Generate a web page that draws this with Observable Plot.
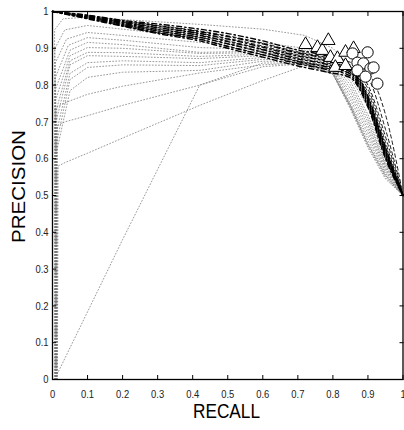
<!DOCTYPE html>
<html><head><meta charset="utf-8">
<script src="https://cdn.jsdelivr.net/npm/d3@7"></script>
<script src="https://cdn.jsdelivr.net/npm/@observablehq/plot@0.6"></script>
<style>html,body{margin:0;padding:0;background:#fff;} svg{display:block;}</style>
</head><body><div id="chart"></div>
<script>
// ---- tick values & labels ----
const tickValues = [0, 0.1, 0.2, 0.3, 0.4, 0.5, 0.6, 0.7, 0.8, 0.9, 1];
const tickLabels = ["0", "0.1", "0.2", "0.3", "0.4", "0.5", "0.6", "0.7", "0.8", "0.9", "1"];
const xTitle = "RECALL";
const yTitle = "PRECISION";

// ---- dotted curves: individual head points, then precision on a shared recall grid ----
const dotGrid = [0.1, 0.2, 0.42, 0.6, 0.72, 0.8, 0.85, 0.9, 0.95, 1];
const dotHeads = [
  [[0.006, 0.0], [0.006, 0.95], [0.030, 0.980]],
  [[0.007, 0.0], [0.007, 0.90], [0.035, 0.950]],
  [[0.008, 0.0], [0.008, 0.86], [0.040, 0.925]],
  [[0.008, 0.0], [0.008, 0.82], [0.045, 0.908]],
  [[0.009, 0.0], [0.009, 0.79], [0.050, 0.895]],
  [[0.009, 0.0], [0.009, 0.76], [0.050, 0.880]],
  [[0.010, 0.0], [0.010, 0.73], [0.050, 0.866]],
  [[0.010, 0.0], [0.010, 0.70], [0.050, 0.855]],
  [[0.011, 0.0], [0.011, 0.67], [0.050, 0.832]],
  [[0.011, 0.0], [0.011, 0.64], [0.050, 0.815]],
  [[0.012, 0.0], [0.012, 0.62], [0.050, 0.785]],
  [[0.012, 0.0], [0.012, 0.74], [0.030, 0.750]],
  [[0.013, 0.0], [0.014, 0.69], [0.035, 0.700]],
  [[0.014, 0.0], [0.016, 0.58], [0.037, 0.590]],
  [[0.006, 0.0]]
];
const dotPrecision = [
  [0.985, 0.978, 0.965, 0.952, 0.935, 0.900, 0.850, 0.770, 0.630, 0.5],
  [0.962, 0.952, 0.929, 0.915, 0.900, 0.875, 0.830, 0.750, 0.620, 0.5],
  [0.943, 0.935, 0.916, 0.905, 0.895, 0.870, 0.820, 0.740, 0.610, 0.5],
  [0.929, 0.922, 0.902, 0.897, 0.890, 0.865, 0.810, 0.720, 0.600, 0.5],
  [0.916, 0.910, 0.889, 0.892, 0.888, 0.860, 0.800, 0.710, 0.590, 0.5],
  [0.902, 0.900, 0.886, 0.888, 0.884, 0.855, 0.790, 0.700, 0.585, 0.5],
  [0.889, 0.888, 0.878, 0.884, 0.880, 0.850, 0.780, 0.690, 0.580, 0.5],
  [0.880, 0.878, 0.872, 0.880, 0.876, 0.845, 0.770, 0.680, 0.575, 0.5],
  [0.861, 0.866, 0.861, 0.875, 0.872, 0.840, 0.760, 0.670, 0.570, 0.5],
  [0.848, 0.855, 0.853, 0.870, 0.868, 0.838, 0.750, 0.660, 0.565, 0.5],
  [0.821, 0.835, 0.840, 0.865, 0.863, 0.835, 0.745, 0.650, 0.560, 0.5],
  [0.775, 0.797, 0.833, 0.855, 0.860, 0.832, 0.740, 0.640, 0.555, 0.5],
  [0.717, 0.745, 0.800, 0.850, 0.858, 0.830, 0.740, 0.635, 0.550, 0.5],
  [0.615, 0.656, 0.745, 0.8125, 0.853, 0.830, 0.735, 0.630, 0.545, 0.5],
  [0.184, 0.380, 0.800, 0.860, 0.860, 0.830, 0.745, 0.640, 0.555, 0.5]
];

// ---- black curves on a shared recall grid ----
const blackGrid = [0, 0.1, 0.2, 0.3, 0.42, 0.5, 0.6, 0.7, 0.78, 0.85, 0.9, 0.95, 1];
const dashDotPrecision = [
  [1, 0.990, 0.976, 0.966, 0.952, 0.940, 0.920, 0.895, 0.880, 0.850, 0.770, 0.630, 0.5],
  [1, 0.988, 0.973, 0.961, 0.945, 0.932, 0.912, 0.887, 0.872, 0.845, 0.765, 0.625, 0.5],
  [1, 0.986, 0.970, 0.956, 0.940, 0.925, 0.903, 0.879, 0.865, 0.840, 0.760, 0.620, 0.5],
  [1, 0.985, 0.968, 0.951, 0.935, 0.918, 0.896, 0.871, 0.857, 0.835, 0.755, 0.615, 0.5],
  [1, 0.984, 0.965, 0.947, 0.930, 0.912, 0.889, 0.864, 0.850, 0.830, 0.750, 0.610, 0.5],
  [1, 0.982, 0.962, 0.943, 0.925, 0.905, 0.882, 0.858, 0.843, 0.825, 0.745, 0.605, 0.5],
  [1, 0.980, 0.960, 0.940, 0.920, 0.900, 0.876, 0.852, 0.836, 0.820, 0.740, 0.600, 0.5]
];
const dashedPrecision = [
  [1, 0.990, 0.975, 0.962, 0.947, 0.934, 0.914, 0.890, 0.876, 0.862, 0.835, 0.720, 0.5],
  [1, 0.987, 0.971, 0.957, 0.941, 0.927, 0.906, 0.882, 0.868, 0.855, 0.820, 0.680, 0.5],
  [1, 0.985, 0.967, 0.952, 0.936, 0.920, 0.898, 0.874, 0.860, 0.848, 0.800, 0.660, 0.5],
  [1, 0.983, 0.964, 0.947, 0.930, 0.913, 0.890, 0.866, 0.852, 0.840, 0.790, 0.645, 0.5],
  [1, 0.981, 0.961, 0.942, 0.924, 0.906, 0.883, 0.860, 0.846, 0.832, 0.780, 0.635, 0.5]
];

// ---- markers ----
const triangleRecall    = [0.722, 0.756, 0.770, 0.787, 0.793, 0.813, 0.807, 0.836, 0.836, 0.859];
const trianglePrecision = [0.910, 0.902, 0.894, 0.921, 0.875, 0.872, 0.848, 0.889, 0.853, 0.899];
const circleRecall      = [0.856, 0.899, 0.870, 0.887, 0.907, 0.870, 0.916, 0.893, 0.927];
const circlePrecision   = [0.886, 0.889, 0.861, 0.859, 0.845, 0.840, 0.848, 0.823, 0.804];

// ---- build tables ----
const dotRows = [];
dotPrecision.forEach((ps, i) => {
  dotHeads[i].forEach(([r, p]) => dotRows.push({id: "d" + i, recall: r, precision: p}));
  dotGrid.forEach((r, j) => dotRows.push({id: "d" + i, recall: r, precision: ps[j]}));
});
const toRows = (arr, prefix) => arr.flatMap((ps, i) => blackGrid.map((r, j) => ({id: prefix + i, recall: r, precision: ps[j]})));
const dashDotRows = toRows(dashDotPrecision, "a");
const dashedRows = toRows(dashedPrecision, "b");
const triangles = triangleRecall.map((r, i) => ({recall: r, precision: trianglePrecision[i]}));
const circles = circleRecall.map((r, i) => ({recall: r, precision: circlePrecision[i]}));

const sans = "'Liberation Sans', Arial, Helvetica, sans-serif";
const fmt = (d) => tickLabels[tickValues.findIndex(v => Math.abs(v - d) < 1e-9)];

const chart = Plot.plot({
  width: 404,
  height: 430,
  marginLeft: 52,
  marginRight: 1.5,
  marginTop: 11,
  marginBottom: 51,
  style: {fontFamily: sans, fontSize: "11.5px", color: "#222", background: "#fff"},
  x: {domain: [0, 1]},
  y: {domain: [0, 1]},
  marks: [
    Plot.line(dotRows, {x: "recall", y: "precision", z: "id", stroke: "#777", strokeWidth: 0.75, strokeDasharray: "0.9,2.2", curve: "linear"}),
    Plot.line(dashedRows, {x: "recall", y: "precision", z: "id", stroke: "#000", strokeWidth: 0.9, strokeDasharray: "3.5,3", curve: "monotone-x"}),
    Plot.line(dashDotRows, {x: "recall", y: "precision", z: "id", stroke: "#000", strokeWidth: 1.4, strokeDasharray: "5,3,1.5,3", curve: "monotone-x"}),
    Plot.dot(triangles, {x: "recall", y: "precision", symbol: "triangle", r: 5, stroke: "#000", fill: "#fff", strokeWidth: 1}),
    Plot.dot(circles, {x: "recall", y: "precision", symbol: "circle", r: 5.6, stroke: "#000", fill: "#fff", strokeWidth: 1}),
    Plot.frame({stroke: "#000", strokeWidth: 1.3}),
    // inward ticks on all four sides
    Plot.axisX({anchor: "bottom", ticks: tickValues, tickSize: 4, dy: -4, tickFormat: () => "", stroke: "#000", label: null}),
    Plot.axisX({anchor: "top", ticks: tickValues, tickSize: 4, dy: 4, tickFormat: () => "", stroke: "#000", label: null}),
    Plot.axisY({anchor: "left", ticks: tickValues, tickSize: 4, dx: 4, tickFormat: () => "", stroke: "#000", label: null}),
    Plot.axisY({anchor: "right", ticks: tickValues, tickSize: 4, dx: -4, tickFormat: () => "", stroke: "#000", label: null}),
    // tick labels
    Plot.axisX({anchor: "bottom", ticks: tickValues, tickSize: 0, tickPadding: 10, tickFormat: fmt, fontSize: 11.5, fill: "#222", label: null}),
    Plot.axisY({anchor: "left", ticks: tickValues, tickSize: 0, tickPadding: 4, tickFormat: fmt, fontSize: 11.5, fill: "#222", label: null})
  ]
});
// horizontally condensed tick lettering as in the reference
d3.select(chart).selectAll("text").each(function () {
  const t = d3.select(this);
  if (t.text() !== "") t.attr("transform", (t.attr("transform") || "") + " scale(0.82,1)");
});
document.getElementById("chart").appendChild(chart);

// axis titles, sized by measurement to the reference's extents
const svg = d3.select(chart);
const xt = svg.append("text").attr("font-family", sans).attr("font-size", 21).attr("fill", "#000")
  .attr("text-anchor", "middle").text(xTitle);
const xw = xt.node().getBBox().width;
xt.attr("transform", `translate(226.5,418) scale(${67 / xw},1)`);
const yt = svg.append("text").attr("font-family", sans).attr("font-size", 21).attr("fill", "#000")
  .attr("text-anchor", "middle").text(yTitle);
const yw = yt.node().getBBox().width;
yt.attr("transform", `translate(25,186.5) rotate(-90) scale(${113 / yw},0.87)`);
</script>
</body></html>
